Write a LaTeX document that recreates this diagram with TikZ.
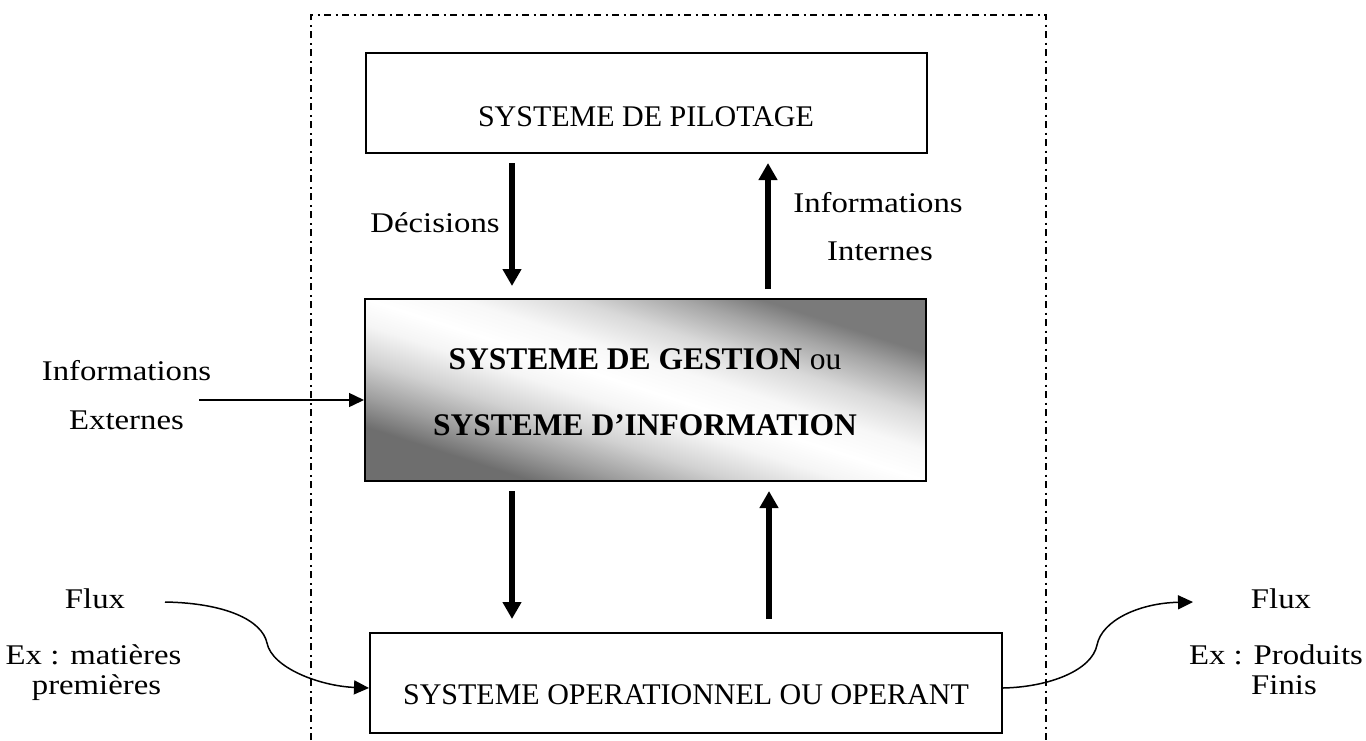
\documentclass[tikz,border=0pt]{standalone}
\usepackage{fontspec}
\setmainfont{Liberation Serif}
\newfontfamily\labfont[FakeStretch=1.15]{Liberation Serif}
\usetikzlibrary{arrows.meta}
\pgfdeclareverticalshading{gesshade}{100bp}{color(0bp)=(black!57); color(25bp)=(black!57); color(31bp)=(black!38); color(38bp)=(black!18); color(45bp)=(black!4); color(50bp)=(white); color(56bp)=(black!3); color(63bp)=(black!15); color(70bp)=(black!35); color(75bp)=(black!52); color(100bp)=(black!52)}
\begin{document}
\begin{tikzpicture}[x=1pt,y=-1pt,
  box/.style={draw, line width=2pt, inner sep=0pt},
  boxtxt/.style={font=\fontsize{30}{36}\selectfont, anchor=base, inner sep=0pt},
  midtxt/.style={font=\fontsize{31.5}{38}\selectfont, anchor=base, inner sep=0pt},
  labtxt/.style={font=\labfont\fontsize{28.5}{34}\selectfont, anchor=base, inner sep=0pt},
  bigarrow/.style={line width=5.5pt, -{Triangle[length=17pt,width=18pt]}},
  smallarrow/.style={line width=1.5pt, -{Triangle[length=15pt,width=14pt]}},
  frameline/.style={line width=1.5pt, dash pattern=on 7pt off 4.5pt on 2pt off 4.5pt}]
\useasboundingbox (0,0) rectangle (1366,740);
% frame
\draw[frameline] (311,740) -- (311,15) -- (1046,15) -- (1046,740);
% top box
\node[box, minimum width=561pt, minimum height=100pt] (pil) at (646.5,103) {};
\node[boxtxt] (piltxt) at (646,126) {SYSTEME DE PILOTAGE};
% middle box with diagonal shading
\coordinate (gc) at (645.5,390);
\begin{scope}[transform canvas={shift={(gc)}, xscale=3.0824}]
  \shade[shading=gesshade, shading angle=-45] (-91,-91) rectangle (91,91);
\end{scope}
\node[box, minimum width=561pt, minimum height=182pt] (ges) at (gc) {};
\node[midtxt] (ges1) at (645,369) {\textbf{SYSTEME DE GESTION} ou};
\node[midtxt] (ges2) at (645,435) {\textbf{SYSTEME D’INFORMATION}};
% bottom box
\node[box, minimum width=632pt, minimum height=100pt] (op) at (686,683) {};
\node[boxtxt] (optxt) at (686,704) {SYSTEME OPERATIONNEL OU OPERANT};
% labels
\node[labtxt] (dec) at (435,232) {Décisions};
\node[labtxt] (ii1) at (878,212) {Informations};
\node[labtxt] (ii2) at (880,260) {Internes};
\node[labtxt] (ie1) at (126.5,380) {Informations};
\node[labtxt] (ie2) at (126.5,429) {Externes};
\node[labtxt] (fl1) at (95,608) {Flux};
\node[labtxt] (fl2) at (93.5,664) {Ex : matières};
\node[labtxt] (fl3) at (96.5,694) {premières};
\node[labtxt] (fr1) at (1281,608) {Flux};
\node[labtxt] (fr2) at (1276,664) {Ex : Produits};
\node[labtxt] (fr3) at (1284,694) {Finis};
% thick arrows
\draw[bigarrow] ([xshift=-134.5pt,yshift=-9pt]pil.south) -- ([xshift=-133.5pt,yshift=12pt]ges.north);
\draw[bigarrow] ([xshift=122.5pt,yshift=9pt]ges.north) -- ([xshift=121.5pt,yshift=-9pt]pil.south);
\draw[bigarrow] ([xshift=-133.5pt,yshift=-9pt]ges.south) -- ([xshift=-174pt,yshift=13pt]op.north);
\draw[bigarrow] ([xshift=83pt,yshift=13pt]op.north) -- ([xshift=123.5pt,yshift=-9pt]ges.south);
% external info
\coordinate (extin) at (199,400);
\draw[smallarrow] (extin) -- ([yshift=-10pt]ges.west);
% flows
\coordinate (fin) at (165,602);
\coordinate (fout) at (1193,602);
\draw[smallarrow] (fin) .. controls (225,603) and (262,620) .. (267,643)
  .. controls (272,668) and (320,686) .. ([yshift=-5pt]op.west);
\draw[smallarrow] ([yshift=-5pt]op.east) .. controls (1050,687) and (1092,670) .. (1097,645)
  .. controls (1102,620) and (1140,603) .. (fout);
\end{tikzpicture}
\end{document}
